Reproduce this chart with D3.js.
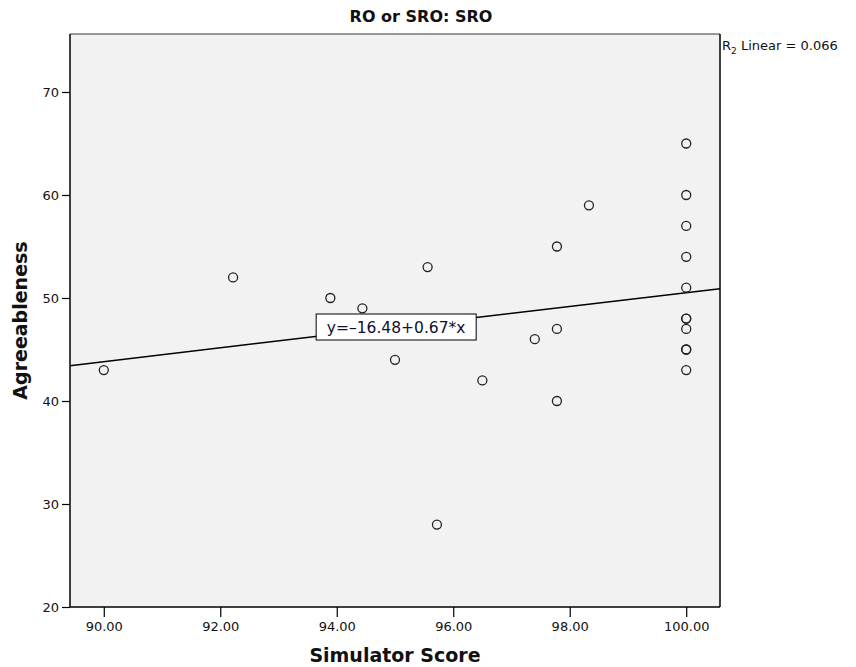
<!DOCTYPE html>
<html>
<head>
<meta charset="utf-8">
<script src="https://cdn.jsdelivr.net/npm/d3@7"></script>
<style>
  body { margin: 0; background: #fff; }
  text { font-family: "DejaVu Sans", Verdana, sans-serif; }
</style>
</head>
<body>
<div id="chart"></div>
<script>
// Simulator score vs agreeableness, SRO group
const simulatorScore = [90.00, 92.22, 93.89, 94.44, 95.00, 95.56, 95.72, 96.50, 97.40,
  97.78, 97.78, 97.78, 98.33,
  100, 100, 100, 100, 100, 100, 100, 100, 100, 100, 100];
const agreeableness = [43, 52, 50, 49, 44, 53, 28, 42, 46,
  55, 47, 40, 59,
  65, 60, 57, 54, 51, 48, 48, 47, 45, 45, 43];
const xTicks = [90, 92, 94, 96, 98, 100];
const yTicks = [20, 30, 40, 50, 60, 70];
const intercept = -16.48, slope = 0.67;
const rSquared = "0.066";

const W = 856, H = 667;
const margin = { top: 34, right: 136, bottom: 60, left: 70 };
const iw = W - margin.left - margin.right;
const ih = H - margin.top - margin.bottom;

const svg = d3.select("#chart").append("svg")
  .attr("width", W).attr("height", H);

const x = d3.scaleLinear().domain([89.42, 100.58]).range([0, iw]);
const y = d3.scaleLinear().domain([20, 75.63]).range([ih, 0]);

const g = svg.append("g").attr("transform", `translate(${margin.left},${margin.top})`);

g.append("rect").attr("width", iw).attr("height", ih).attr("fill", "#f2f2f2");

// axes
const xAxis = g.append("g").attr("transform", `translate(0,${ih})`)
  .call(d3.axisBottom(x).tickValues(xTicks).tickFormat(d3.format(".2f")).tickSize(10).tickPadding(5));
const yAxis = g.append("g")
  .call(d3.axisLeft(y).tickValues(yTicks).tickFormat(d3.format("d")).tickSize(8).tickPadding(3));
[xAxis, yAxis].forEach(a => {
  a.select(".domain").remove();
  a.selectAll("line").attr("stroke", "#000").attr("stroke-width", 1.2);
  a.selectAll("text").attr("fill", "#111").style("font-size", "13px");
});

// frame
g.append("line").attr("x1", 0).attr("x2", iw).attr("y1", 0).attr("y2", 0).attr("stroke", "#777").attr("stroke-width", 1.5);
g.append("line").attr("x1", 0).attr("x2", 0).attr("y1", 0).attr("y2", ih).attr("stroke", "#000").attr("stroke-width", 1.5);
g.append("line").attr("x1", iw).attr("x2", iw).attr("y1", 0).attr("y2", ih).attr("stroke", "#000").attr("stroke-width", 1.5);
g.append("line").attr("x1", 0).attr("x2", iw).attr("y1", ih).attr("y2", ih).attr("stroke", "#000").attr("stroke-width", 1.5);

// fit line
const [x0, x1] = x.domain();
g.append("line")
  .attr("x1", x(x0)).attr("y1", y(intercept + slope * x0))
  .attr("x2", x(x1)).attr("y2", y(intercept + slope * x1))
  .attr("stroke", "#000").attr("stroke-width", 1.5);

// points
g.selectAll("circle.pt")
  .data(simulatorScore.map((s, i) => [s, agreeableness[i]]))
  .join("circle")
  .attr("class", "pt")
  .attr("cx", d => x(d[0])).attr("cy", d => y(d[1]))
  .attr("r", 4.5)
  .attr("fill", "none").attr("stroke", "#222").attr("stroke-width", 1.3);

// equation label
const lx = 95.02, ly = intercept + slope * lx;
const lab = g.append("g").attr("transform", `translate(${x(lx)},${y(ly)})`);
lab.append("rect").attr("x", -80).attr("y", -13).attr("width", 160).attr("height", 26)
  .attr("fill", "#fff").attr("stroke", "#000").attr("stroke-width", 1);
lab.append("text").attr("text-anchor", "middle").attr("dy", "0.36em")
  .style("font-size", "15.5px").attr("fill", "#101030")
  .text(`y=\u2013${Math.abs(intercept).toFixed(2)}+${slope.toFixed(2)}*x`);

// R squared
const rt = svg.append("text").attr("x", margin.left + iw + 2).attr("y", 50)
  .style("font-size", "13px").attr("fill", "#111");
rt.append("tspan").text("R");
rt.append("tspan").attr("dy", 4).style("font-size", "9px").text("2");
rt.append("tspan").attr("dy", -4).text(` Linear = ${rSquared}`);

// title and axis labels
svg.append("text").attr("x", 421).attr("y", 22).attr("text-anchor", "middle")
  .style("font-size", "16px").style("font-weight", "bold").attr("fill", "#111").text("RO or SRO: SRO");
svg.append("text").attr("x", margin.left + iw / 2).attr("y", 662).attr("text-anchor", "middle")
  .style("font-size", "19px").style("font-weight", "bold").attr("fill", "#111").text("Simulator Score");
svg.append("text").attr("transform", `translate(27,${margin.top + ih / 2}) rotate(-90)`)
  .attr("text-anchor", "middle")
  .style("font-size", "19px").style("font-weight", "bold").attr("fill", "#111").text("Agreeableness");
</script>
</body>
</html>
